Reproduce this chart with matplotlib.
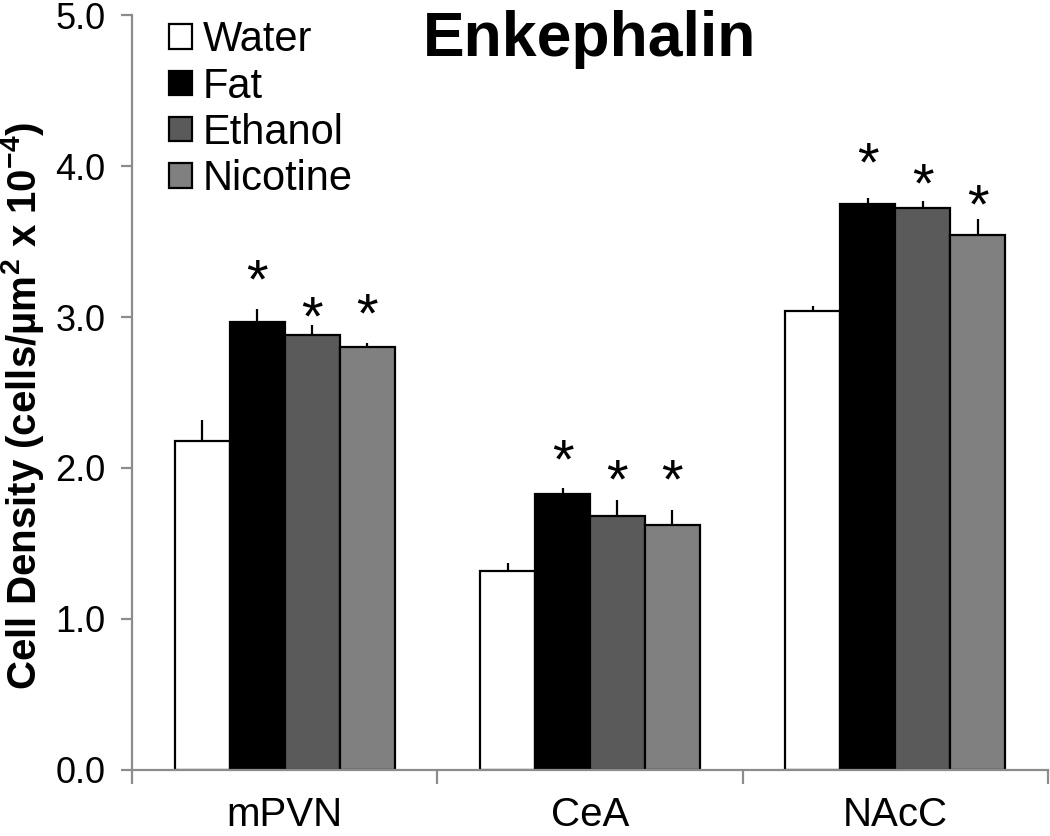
import numpy as np
import matplotlib
matplotlib.use("Agg")
import matplotlib.pyplot as plt

plt.rcParams['font.family'] = ['Liberation Sans', 'DejaVu Sans']
plt.rcParams['mathtext.fontset'] = 'custom'
plt.rcParams['mathtext.rm'] = 'Liberation Sans:bold'
plt.rcParams['mathtext.bf'] = 'Liberation Sans:bold'
plt.rcParams['mathtext.default'] = 'bf'

# データ
regions = ['mPVN', 'CeA', 'NAcC']
groups = ['Water', 'Fat', 'Ethanol', 'Nicotine']
colors = ['#ffffff', '#000000', '#5a5a5a', '#808080']

water = [2.18, 1.32, 3.04]
fat = [2.97, 1.83, 3.75]
ethanol = [2.88, 1.68, 3.72]
nicotine = [2.80, 1.62, 3.54]

water_err = [0.14, 0.05, 0.03]
fat_err = [0.08, 0.04, 0.04]
ethanol_err = [0.07, 0.11, 0.05]
nicotine_err = [0.03, 0.10, 0.11]

# アスタリスクの高さ (Fat, Ethanol, Nicotine)
star_fat = [3.29, 2.10, 4.07]
star_ethanol = [3.05, 1.97, 3.93]
star_nicotine = [3.07, 1.97, 3.79]

means = [water, fat, ethanol, nicotine]
errs = [water_err, fat_err, ethanol_err, nicotine_err]
stars = [None, star_fat, star_ethanol, star_nicotine]

fig = plt.figure(figsize=(10.5, 8.36), dpi=100)
ax = fig.add_axes([0.1257, 0.079, 0.8724, 0.903])

x = np.arange(len(regions))
w = 0.18
for i in range(len(groups)):
    pos = x + (i - 1.5) * w
    ax.errorbar(pos, means[i], yerr=[np.zeros(3), errs[i]], fmt='none',
                ecolor='black', elinewidth=1.6, capsize=0, zorder=1)
    ax.bar(pos, means[i], width=w, color=colors[i], edgecolor='black',
           linewidth=1.6, label=groups[i], zorder=2)
    if stars[i] is not None:
        for p, s in zip(pos, stars[i]):
            ax.text(p, s - 0.07, '*', ha='center', va='center', fontsize=40)

ax.set_xlim(-0.5, 2.5)
ax.set_ylim(0, 5.0)
ax.set_yticks(np.arange(0, 5.01, 1.0))
ax.set_yticklabels(['%.1f' % v for v in np.arange(0, 5.01, 1.0)])
ax.set_xticks([-0.5, 0.5, 1.5, 2.5])
ax.set_xticklabels([])
ax.set_xticks(x, minor=True)
ax.set_xticklabels(regions, minor=True)

ax.spines['top'].set_visible(False)
ax.spines['right'].set_visible(False)
for s in ['left', 'bottom']:
    ax.spines[s].set_color('#8c8c8c')
    ax.spines[s].set_linewidth(1.6)
ax.tick_params(axis='y', which='major', direction='out', length=8, width=1.6,
               color='#8c8c8c', labelsize=26, pad=11)
ax.tick_params(axis='x', which='major', direction='out', length=10, width=1.6,
               color='#8c8c8c')
ax.tick_params(axis='x', which='minor', length=0, labelsize=29, pad=19)

ax.set_ylabel('Cell Density (cells/µm$^2$ x 10$^{-4}$)', fontsize=29,
              fontweight='bold')
ax.yaxis.set_label_coords(-0.094, 0.482)
ax.text(0.5, 1.007, 'Enkephalin', transform=ax.transAxes, ha='center', va='top',
        fontsize=45, fontweight='bold')

ax.legend(loc='upper left', bbox_to_anchor=(0.04, 0.993), frameon=False,
          fontsize=30, handlelength=0.56, handleheight=0.53, handletextpad=0.26,
          labelspacing=0.15, borderaxespad=0, borderpad=0)

plt.savefig('out.png', dpi=100)
